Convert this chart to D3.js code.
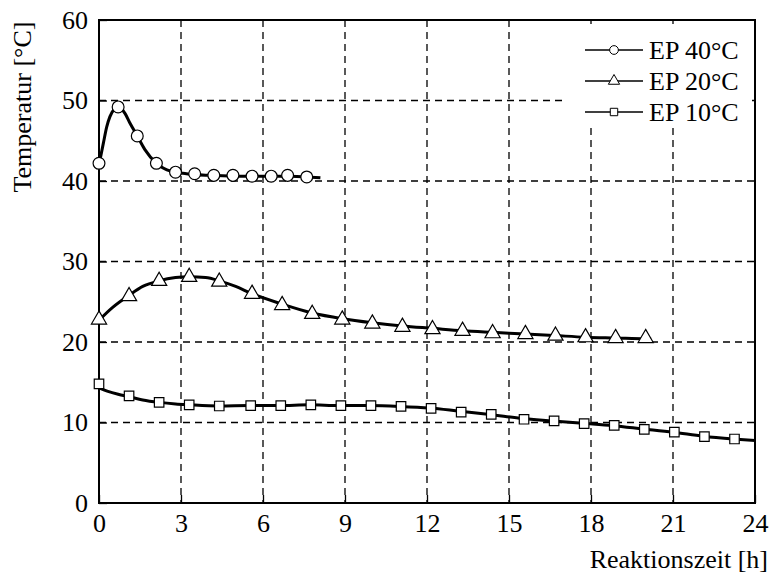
<!DOCTYPE html>
<html>
<head>
<meta charset="utf-8">
<script src="https://cdnjs.cloudflare.com/ajax/libs/d3/7.8.5/d3.min.js"></script>
<style>
  body { margin: 0; background: #fff; }
  svg text { font-family: "Liberation Serif", "Times New Roman", Times, "DejaVu Serif", serif; fill: #000; }
</style>
</head>
<body>
<div id="chart"></div>
<script>
// Données
const xTicks = [0, 3, 6, 9, 12, 15, 18, 21, 24];
const yTicks = [0, 10, 20, 30, 40, 50, 60];
const seriesNames = ["EP 40°C", "EP 20°C", "EP 10°C"];

// EP 40°C : courbe et marqueurs
const ep40Line = [[0,42.0],[0.16,44.7],[0.28,46.7],[0.4,48.0],[0.58,49.0],[0.7,49.2],[0.95,48.4],[1.13,47.2],[1.4,45.6],[1.68,43.9],[2.1,42.2],[2.65,41.2],[3.2,40.9],[4.0,40.7],[5.0,40.6],[6.0,40.6],[7.0,40.6],[8.1,40.4]];
const ep40Times = [0, 0.7, 1.4, 2.1, 2.8, 3.5, 4.2, 4.9, 5.6, 6.3, 6.9, 7.6];
const ep40Values = [42.2, 49.2, 45.6, 42.2, 41.1, 40.9, 40.7, 40.7, 40.6, 40.6, 40.7, 40.5];

// EP 20°C
const ep20Line = [[0,22.7],[0.5,24.3],[1.1,25.8],[1.6,26.9],[2.2,27.6],[2.8,28.0],[3.3,28.1],[3.9,28.0],[4.4,27.6],[5.0,26.9],[5.6,26.0],[6.7,24.7],[7.8,23.6],[8.9,22.9],[10.0,22.4],[11.1,22.0],[12.2,21.7],[13.3,21.4],[14.4,21.2],[15.6,21.0],[16.7,20.8],[17.8,20.6],[18.9,20.5],[20.0,20.4],[20.2,20.4]];
const ep20Times = [0, 1.1, 2.2, 3.3, 4.4, 5.6, 6.7, 7.8, 8.9, 10.0, 11.1, 12.2, 13.3, 14.4, 15.6, 16.7, 17.8, 18.9, 20.0];
const ep20Values = [22.9, 25.8, 27.7, 28.2, 27.6, 26.1, 24.7, 23.6, 22.9, 22.4, 22.0, 21.7, 21.5, 21.2, 21.1, 20.9, 20.7, 20.6, 20.6];

// EP 10°C
const ep10Line = [[0,14.3],[0.3,13.9],[0.7,13.5],[1.1,13.2],[1.6,12.8],[2.2,12.5],[2.8,12.3],[3.3,12.2],[4.4,12.05],[5.5,12.1],[6.6,12.1],[7.7,12.2],[8.8,12.1],[9.9,12.1],[11.0,12.0],[12.1,11.8],[13.2,11.4],[14.3,11.0],[15.5,10.5],[16.6,10.2],[17.7,9.9],[18.8,9.6],[19.9,9.2],[21.0,8.8],[22.1,8.3],[23.2,7.95],[24,7.75]];
const ep10Times = [0, 1.1, 2.2, 3.3, 4.4, 5.55, 6.65, 7.75, 8.85, 9.95, 11.05, 12.15, 13.25, 14.35, 15.55, 16.65, 17.75, 18.85, 19.95, 21.05, 22.15, 23.25];
const ep10Values = [14.8, 13.3, 12.5, 12.2, 12.05, 12.1, 12.1, 12.2, 12.1, 12.1, 12.0, 11.75, 11.3, 11.0, 10.4, 10.2, 9.85, 9.65, 9.15, 8.8, 8.25, 7.95];

// Dimensions du graphique
const width = 771;
const height = 579;
const margin = { top: 20, right: 16, bottom: 76, left: 99 };
const innerW = width - margin.left - margin.right;
const innerH = height - margin.top - margin.bottom;
const serif = "'Liberation Serif', 'Times New Roman', Times, 'DejaVu Serif', serif";
const fontSize = 26;

const svg = d3.select("#chart")
    .append("svg")
    .attr("width", width)
    .attr("height", height);

const g = svg.append("g")
    .attr("transform", `translate(${margin.left},${margin.top})`);

const x = d3.scaleLinear().domain([0, 24]).range([0, innerW]);
const y = d3.scaleLinear().domain([0, 60]).range([innerH, 0]);

// Grille en pointillés
g.selectAll(".vgrid")
    .data(xTicks.slice(1, -1))
    .enter()
    .append("line")
    .attr("x1", d => x(d)).attr("x2", d => x(d))
    .attr("y1", 0).attr("y2", innerH)
    .attr("stroke", "#000")
    .attr("stroke-width", 1.3)
    .attr("stroke-dasharray", "7,5");

g.selectAll(".hgrid")
    .data(yTicks.slice(1, -1))
    .enter()
    .append("line")
    .attr("x1", 0).attr("x2", innerW)
    .attr("y1", d => y(d)).attr("y2", d => y(d))
    .attr("stroke", "#000")
    .attr("stroke-width", 1.3)
    .attr("stroke-dasharray", "7,5");

// Axes
const xAxis = d3.axisBottom(x).tickValues(xTicks).tickSize(-8).tickPadding(11);
const yAxis = d3.axisLeft(y).tickValues(yTicks).tickSize(-8).tickPadding(11);

const gx = g.append("g").attr("transform", `translate(0,${innerH})`).call(xAxis);
const gy = g.append("g").call(yAxis);
[gx, gy].forEach(a => {
    a.attr("font-family", serif).attr("font-size", fontSize);
    a.select(".domain").remove();
    a.selectAll(".tick line").attr("stroke", "#000").attr("stroke-width", 1.3);
    a.selectAll(".tick text").attr("fill", "#000");
});

// Cadre
g.append("rect")
    .attr("width", innerW).attr("height", innerH)
    .attr("fill", "none").attr("stroke", "#000").attr("stroke-width", 2);

// Courbes
const line = d3.line()
    .x(d => x(d[0]))
    .y(d => y(d[1]))
    .curve(d3.curveMonotoneX);

const lines = [ep40Line, ep20Line, ep10Line];
g.selectAll(".curve")
    .data(lines)
    .enter()
    .append("path")
    .attr("d", line)
    .attr("fill", "none")
    .attr("stroke", "#000")
    .attr("stroke-width", 3);

// Marqueurs
const symbols = [d3.symbolCircle, d3.symbolTriangle, d3.symbolSquare];
const symSizes = [110, 100, 90];
const markerSets = [
    ep40Times.map((t, i) => [t, ep40Values[i]]),
    ep20Times.map((t, i) => [t, ep20Values[i]]),
    ep10Times.map((t, i) => [t, ep10Values[i]])
];

markerSets.forEach((pts, k) => {
    g.selectAll(".m" + k)
        .data(pts)
        .enter()
        .append("path")
        .attr("d", d3.symbol().type(symbols[k]).size(symSizes[k]))
        .attr("transform", d => `translate(${x(d[0])},${y(d[1]) + (k === 1 ? 1 : 0)})`)
        .attr("fill", "#fff")
        .attr("stroke", "#000")
        .attr("stroke-width", 1.2);
});

// Légende
g.append("rect")
    .attr("x", 468).attr("y", 4)
    .attr("width", 185).attr("height", 103)
    .attr("fill", "#fff");

const legend = g.selectAll(".legend")
    .data(seriesNames)
    .enter()
    .append("g")
    .attr("transform", (d, i) => `translate(486,${30 + i * 31})`);

legend.append("line")
    .attr("x1", 0).attr("x2", 58)
    .attr("stroke", "#000").attr("stroke-width", 1.5);

legend.append("path")
    .attr("d", (d, i) => d3.symbol().type(symbols[i]).size([60, 55, 55][i])())
    .attr("transform", "translate(29,0)")
    .attr("fill", "#fff")
    .attr("stroke", "#000")
    .attr("stroke-width", 1);

legend.append("text")
    .attr("x", 64)
    .attr("dy", "0.35em")
    .attr("font-family", serif)
    .attr("font-size", fontSize)
    .text(d => d);

// Titres des axes
svg.append("text")
    .attr("x", 768)
    .attr("y", 568)
    .attr("text-anchor", "end")
    .attr("font-family", serif)
    .attr("font-size", fontSize)
    .text("Reaktionszeit [h]");

svg.append("text")
    .attr("transform", "translate(31,107) rotate(-90)")
    .attr("text-anchor", "middle")
    .attr("font-family", serif)
    .attr("font-size", fontSize)
    .text("Temperatur [°C]");
</script>
</body>
</html>
